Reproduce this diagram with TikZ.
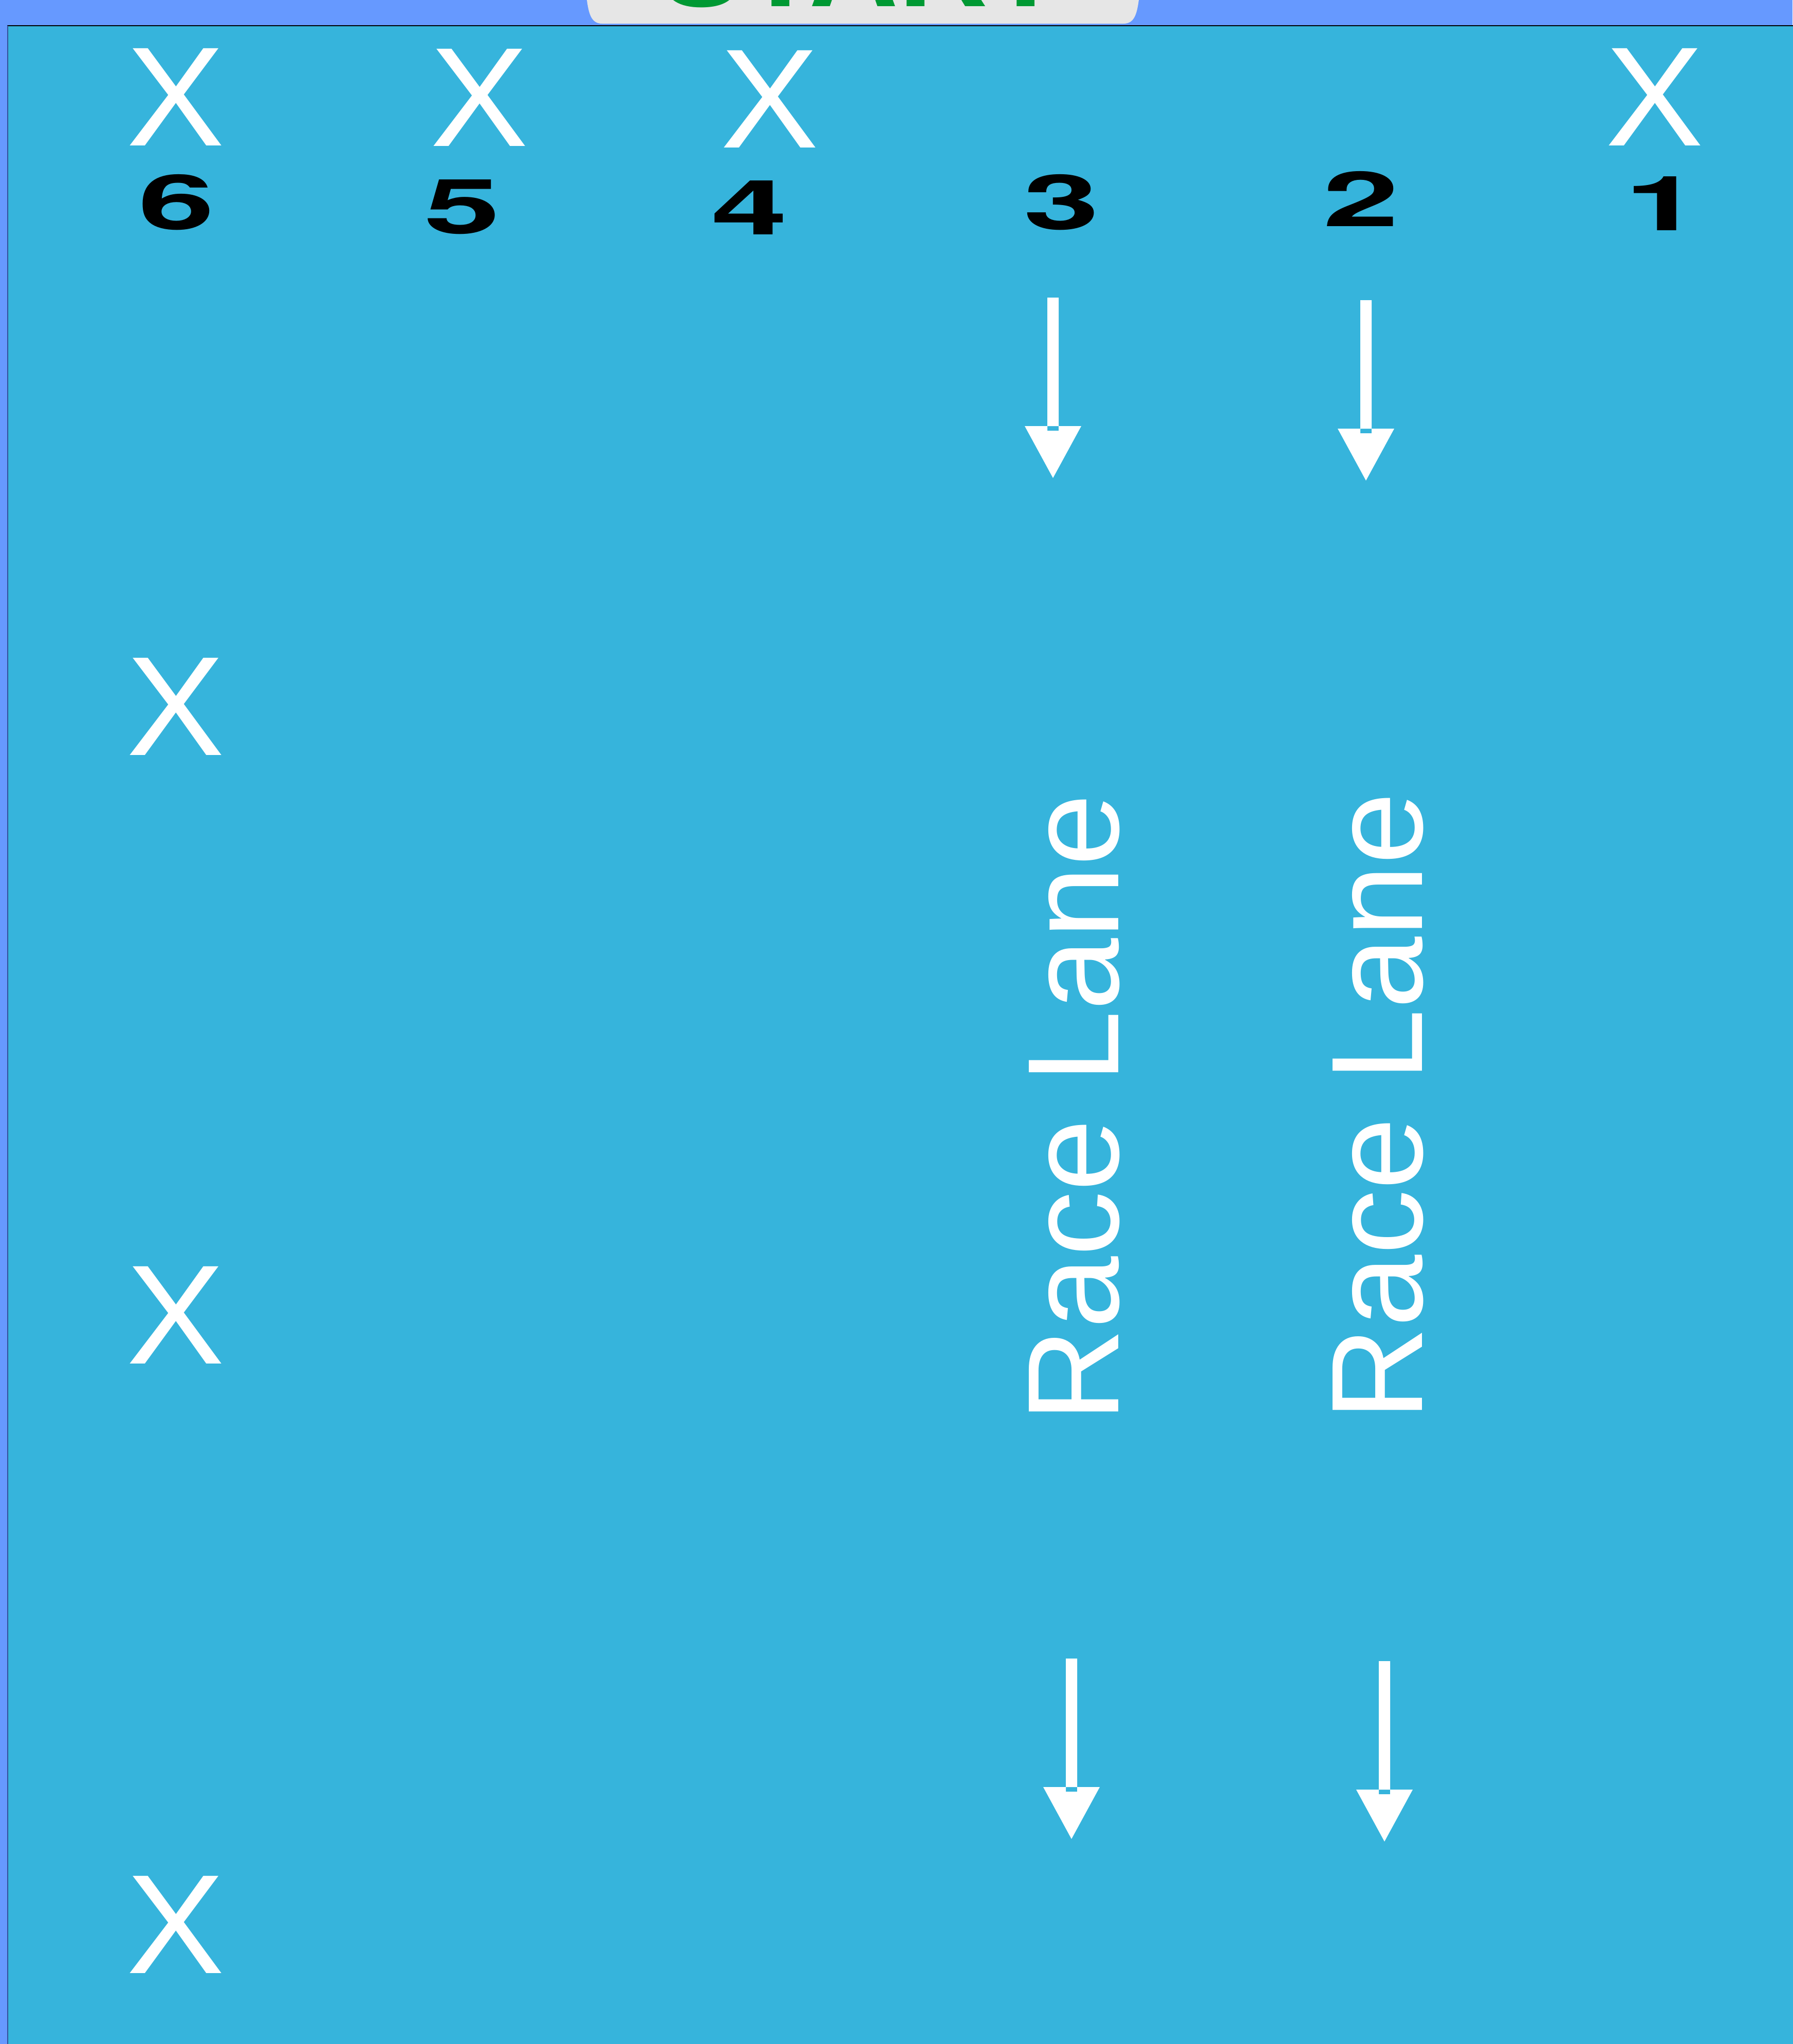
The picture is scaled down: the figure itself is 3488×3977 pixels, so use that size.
\documentclass[tikz,border=0pt]{standalone}
\usepackage{fontspec}
\setmainfont{Liberation Sans}
\newfontfamily\numfont{TeX Gyre Heros}
\definecolor{pagebg}{HTML}{6699FF}
\definecolor{panelbg}{HTML}{36B4DC}
\definecolor{tabgrey}{HTML}{E6E6E6}
\definecolor{startgreen}{HTML}{009933}
\definecolor{leftedge}{HTML}{33509A}
\newcommand{\rlarrow}[2]{%
  \fill[white, even odd rule]
    ({#1-11},{#2}) rectangle ({#1+11},{#2+259})
    ({#1-55},{#2+250}) -- ({#1+55},{#2+250}) -- ({#1},{#2+351}) -- cycle;}
\begin{document}
\begin{tikzpicture}[x=0.1pt,y=-0.1pt,
  cross/.style={text=white, font=\fontsize{27.5pt}{30pt}\selectfont, inner sep=0pt, anchor=base, xscale=1.04},
  lanenum/.style={text=black, font=\numfont\fontsize{14.8pt}{16pt}\selectfont\bfseries, inner sep=0pt, anchor=base, xscale=1.8},
  lanetext/.style={text=white, font=\fontsize{25.3pt}{28pt}\selectfont, inner sep=0pt, anchor=base, rotate=90},
  starttext/.style={text=startgreen, font=\fontsize{24.1pt}{27pt}\selectfont\bfseries, inner sep=0pt, anchor=base}]
\useasboundingbox (0,0) rectangle (3488,3977);
% page background
\fill[pagebg] (0,0) rectangle (3488,3977);
% START tab
\fill[tabgrey] (1138,-120) -- (1142,0) .. controls (1146,30) and (1152,46) .. (1172,46)
  -- (2186,46) .. controls (2206,46) and (2212,30) .. (2216,0) -- (2220,-120) -- cycle;
\node[starttext] (start) at (1677,12) {START};
% panel
\fill[panelbg] (15,50) rectangle (3500,4000);
\draw[black, line width=0.15pt] (14,50) -- (3500,50);
\draw[leftedge, line width=0.2pt] (15,50) -- (15,4000);
% crosses (top row)
\node[cross] (x6) at (342,283) {X};
\node[cross] (x5) at (933,284) {X};
\node[cross] (x4) at (1498,287) {X};
\node[cross] (x1) at (3220,283) {X};
% crosses (left column)
\node[cross] (xa) at (342,1469) {X};
\node[cross] (xb) at (342,2653) {X};
\node[cross] (xc) at (342,3839) {X};
% lane numbers
\node[lanenum] (n6) at (344,446) {6};
\node[lanenum] (n5) at (900,454) {5};
\node[lanenum] (n4) at (1459,456) {4};
\node[lanenum] (n3) at (2066,446) {3};
\node[lanenum] (n2) at (2649,440) {2};
\node[lanenum] (n1) at (3236,448) {1};
% arrows
\rlarrow{2049}{579}
\rlarrow{2658}{584}
\rlarrow{2085}{3227}
\rlarrow{2694}{3232}
% race lane labels
\node[lanetext] (rl3) at (2176,2156) {Race Lane};
\node[lanetext] (rl2) at (2767,2153) {Race Lane};
\end{tikzpicture}
\end{document}
